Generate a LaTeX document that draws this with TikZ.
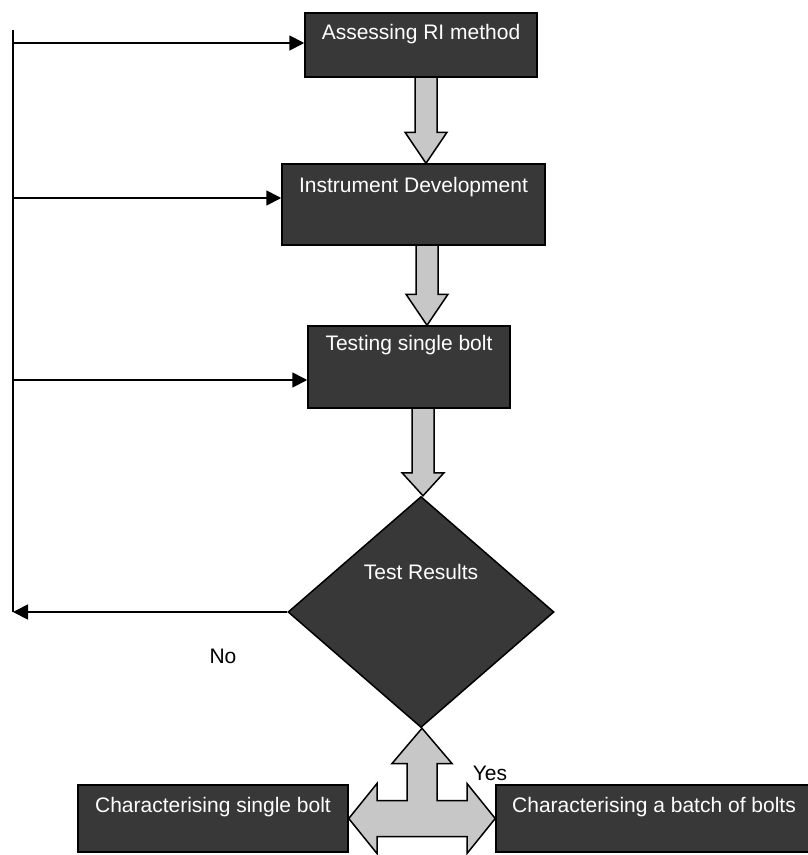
\documentclass[tikz,border=0pt]{standalone}
\usepackage{fontspec}
\setmainfont{Liberation Sans}
\usetikzlibrary{shapes.geometric,arrows.meta,calc}

\tikzset{
  box/.style={draw=black, line width=1.5pt, fill=black!78, inner sep=0pt},
  boxlabel/.style={anchor=north, inner sep=0pt, text=white, font=\fontsize{21}{25}\selectfont},
  decision/.style={diamond, draw=black, line width=1.5pt, fill=black!78, inner sep=0pt},
  blockarrow/.style={draw=black, line width=1.5pt, fill=black!22, line join=miter},
  feedback/.style={line width=1.8pt},
  fbarrow/.style={-{Triangle[length=15pt,width=15pt]}},
  plainlabel/.style={inner sep=0pt, font=\fontsize{21}{25}\selectfont},
}

% block arrow pointing down: start, tip, head length
\newcommand{\blockdown}[3]{%
  \draw[blockarrow] ($(#1)+(-11,0)$) -- ($(#2)+(-11,-#3)$) -- ($(#2)+(-21,-#3)$)
    -- (#2) -- ($(#2)+(21,-#3)$) -- ($(#2)+(11,-#3)$) -- ($(#1)+(11,0)$) -- cycle;}

\begin{document}
\begin{tikzpicture}[x=1pt, y=-1pt]
\useasboundingbox (0,0) rectangle (808,855);

% Process boxes
\node[box, minimum width=232pt, minimum height=64pt] (assess) at (421,45)
  {} ;
\node[boxlabel, yshift=-12pt] at (assess.north) {Assessing RI method};
\node[box, minimum width=263pt, minimum height=81pt] (develop) at (413.5,204.5) {};
\node[boxlabel, yshift=-14pt] at (develop.north) {Instrument Development};
\node[box, minimum width=202pt, minimum height=82pt] (testbolt) at (409,367) {};
\node[boxlabel, yshift=-10pt] at (testbolt.north) {Testing single bolt};

% Decision
\node[decision, minimum width=266pt, minimum height=231pt] (results) at (421,612) {};
\node[boxlabel, anchor=center] (restext) at ($(results)+(0,-40)$) {Test Results};

% Outcome boxes
\node[box, minimum width=270pt, minimum height=67pt] (charone) at (213,818.5) {};
\node[boxlabel, yshift=-13pt] at (charone.north) {Characterising single bolt};
\node[box, minimum width=316pt, minimum height=67pt] (charbatch) at (654,818.5) {};
\node[boxlabel, yshift=-13pt] at (charbatch.north) {Characterising a batch of bolts};

% Block arrows between the steps
\coordinate (s1) at (426,77);
\coordinate (s2) at (427,245);
\coordinate (s3) at (423,408);
\blockdown{s1}{s1 |- develop.north}{31}
\blockdown{s2}{s2 |- testbolt.north}{31}
\blockdown{s3}{s3 |- results.north}{23}

% Split arrow to the outcomes
\coordinate (cross) at ($(charone.east)!0.5!(charbatch.west)$);
\draw[blockarrow] (cross |- results.south) -- ($(cross)+(30,-55)$) -- ($(cross)+(15,-55)$)
  -- ($(cross)+(15,-18)$) -- ($(cross)+(45,-18)$) -- ($(cross)+(45,-35)$)
  -- (charbatch.west) -- ($(cross)+(45,35)$) -- ($(cross)+(45,18)$)
  -- ($(cross)+(-45,18)$) -- ($(cross)+(-45,35)$) -- (charone.east)
  -- ($(cross)+(-45,-35)$) -- ($(cross)+(-45,-18)$) -- ($(cross)+(-15,-18)$)
  -- ($(cross)+(-15,-55)$) -- ($(cross)+(-30,-55)$) -- cycle;

% Feedback loop
\coordinate (fbtop) at (13,30);
\coordinate (fbbot) at (13,612);
\draw[feedback] (fbtop) -- (fbbot);
\foreach \b/\y in {assess/43, develop/198, testbolt/380} {
  \coordinate (fb\b) at (13,\y);
  \draw[feedback, fbarrow] (fb\b) -- (fb\b -| \b.west);
}
\draw[feedback, fbarrow] (results.west) -- (results.west -| fbbot);

% Branch labels
\node[plainlabel] (nolabel) at (223,656) {No};
\node[plainlabel] (yeslabel) at (490,773) {Yes};

\end{tikzpicture}
\end{document}
